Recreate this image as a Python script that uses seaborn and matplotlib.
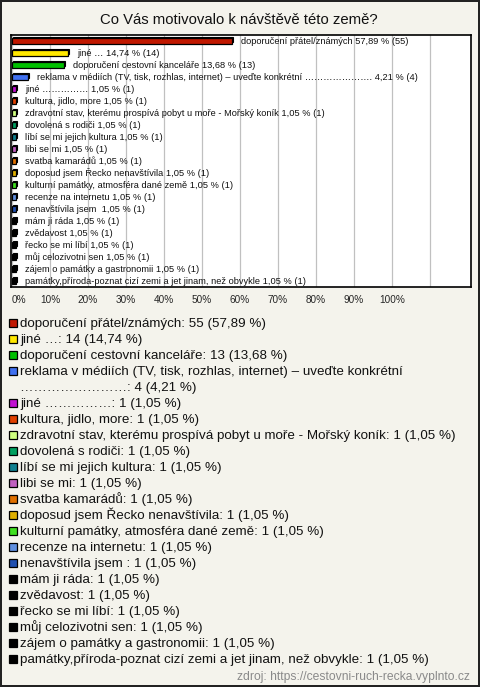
import matplotlib
matplotlib.use("Agg")
import matplotlib.pyplot as plt
import seaborn as sns
import pandas as pd
from matplotlib.patches import Rectangle
from matplotlib.transforms import ScaledTranslation
from matplotlib.colors import to_rgb

# Data
names = [
    "doporučení přátel/známých",
    "jiné …",
    "doporučení cestovní kanceláře",
    "reklama v médiích (TV, tisk, rozhlas, internet) – uveďte konkrétní",
    "jiné ……………",
    "kultura, jidlo, more",
    "zdravotní stav, kterému prospívá pobyt u moře - Mořský koník",
    "dovolená s rodiči",
    "líbí se mi jejich kultura",
    "libi se mi",
    "svatba kamarádů",
    "doposud jsem Řecko nenavštívila",
    "kulturní památky, atmosféra dané země",
    "recenze na internetu",
    "nenavštívila jsem ",
    "mám ji ráda",
    "zvědavost",
    "řecko se mi líbí",
    "můj celozivotni sen",
    "zájem o památky a gastronomii",
    "památky,příroda-poznat cizí zemi a jet jinam, než obvykle",
]
counts = [55, 14, 13, 4] + [1] * 17
percents = [57.89, 14.74, 13.68, 4.21] + [1.05] * 17
colors = [
    "#c01800", "#ffe800", "#00c000", "#4070f0", "#c010d0", "#e04000",
    "#d0ff80", "#00a060", "#108090", "#c060c0", "#e07000", "#e0b000",
    "#40e020", "#6090e0", "#2050b0",
    "#000000", "#000000", "#000000", "#000000", "#000000", "#000000",
]
reklama_dots_bar = "…………………"
reklama_dots_legend = "……………………"

def fmt(v):
    return f"{v:.2f}".replace(".", ",")

df = pd.DataFrame({"name": names, "count": counts, "pct": percents})
df["key"] = [f"{i:02d}" for i in range(len(df))]

sns.set_theme(style="white")
plt.rcParams["font.family"] = ["Liberation Sans", "DejaVu Sans"]

bg = "#f4f3ec"
W, H = 480, 687
fig = plt.figure(figsize=(4.8, 6.87), dpi=100, facecolor=bg)
fig.patch.set_edgecolor("#222222")
fig.patch.set_linewidth(1.5)

ax = fig.add_axes([11 / W, 1 - 287 / H, 459.5 / W, 252 / H])
ax.set_facecolor("white")

sns.barplot(data=df, x="pct", y="key", hue="key", palette=colors, orient="h",
            width=0.45, legend=False, ax=ax, edgecolor="black", linewidth=0.9,
            saturation=1, zorder=3)

# small 3D depth behind each bar
shift = ScaledTranslation(1.5 / 100, 1.5 / 100, fig.dpi_scale_trans)
for p, c in zip(list(ax.patches), colors):
    r, g, b = to_rgb(c)
    depth = Rectangle(p.get_xy(), p.get_width(), p.get_height(),
                      facecolor=(r * 0.7, g * 0.7, b * 0.7), edgecolor="black",
                      linewidth=0.8, transform=ax.transData + shift, zorder=2.5)
    ax.add_patch(depth)

bar_texts = []
for i, (n, c, v) in enumerate(zip(names, counts, percents)):
    if i == 3:
        bar_texts.append(f"{n} {reklama_dots_bar}. {fmt(v)} % ({c})")
    else:
        bar_texts.append(f"{n} {fmt(v)} % ({c})")
for cont, t in zip(ax.containers, bar_texts):
    ax.bar_label(cont, labels=[t], padding=6.5, fontsize=6.65, color="#111111")

ax.set_xlim(-0.25, 120.7)
ax.set_ylim(len(names) - 0.5, -0.5)
ax.set_xticks(range(0, 111, 10))
ax.set_xticklabels([f"{t}%" for t in range(0, 101, 10)] + [""], fontsize=7.2)
ax.get_xticklabels()[0].set_ha("left")
ax.set_yticks([])
ax.set_xlabel("")
ax.set_ylabel("")
ax.tick_params(axis="x", length=0, pad=6)
ax.grid(axis="x", color="#c0c0c0", linewidth=0.9, zorder=0)
for s in ax.spines.values():
    s.set_color("black")
    s.set_linewidth(1.2)

fig.text(239 / W, 1 - 20 / H, "Co Vás motivovalo k návštěvě této země?",
         ha="center", va="center", fontsize=10.7, color="#111111")

# Legend rows at a fixed pitch
rows = []
for i, (n, c, v, col) in enumerate(zip(names, counts, percents, colors)):
    if i == 3:
        rows.append((col, n))
        rows.append((None, f"{reklama_dots_legend}: {c} ({fmt(v)} %)"))
    else:
        rows.append((col, f"{n}: {c} ({fmt(v)} %)"))

top, pitch = 322.5, 16
for k, (col, txt) in enumerate(rows):
    yc = top + k * pitch
    if col is not None:
        fig.patches.append(Rectangle((9 / W, 1 - (yc + 4) / H), 8 / W, 8 / H,
                                     facecolor=col, edgecolor="black", linewidth=0.9,
                                     transform=fig.transFigure, figure=fig))
    fig.text(20 / W, 1 - (yc + 4) / H, txt, ha="left", va="baseline",
             fontsize=9.6, color="#111111")

fig.text(470 / W, 1 - 677 / H, "zdroj: https://cestovni-ruch-recka.vyplnto.cz",
         ha="right", va="center", fontsize=8.7, color="#8a8a8a")

fig.savefig("out.png", dpi=100, facecolor=bg, edgecolor=fig.get_edgecolor())
